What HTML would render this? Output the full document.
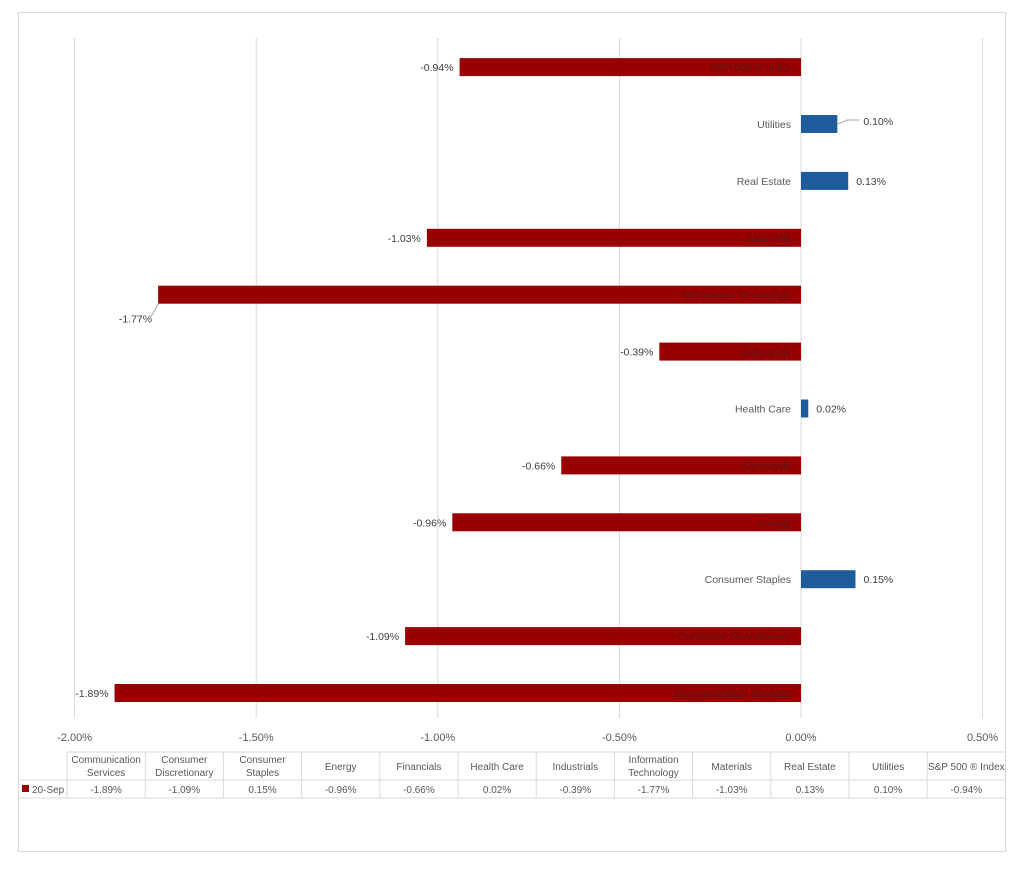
<!DOCTYPE html>
<html><head><meta charset="utf-8"><style>
body{margin:0;background:#fff;font-family:"Liberation Sans",sans-serif}
svg text{font-family:"Liberation Sans",sans-serif}
</style></head><body>
<svg id="c" width="1024" height="866" viewBox="0 0 1024 866">
<rect x="18.5" y="12.5" width="987" height="839" fill="#fff" stroke="#d9d9d9"/>
<g id="grid"></g><g id="bars"></g><g id="table"></g>
</svg>
<script>
const categories=["Communication Services","Consumer Discretionary","Consumer Staples","Energy","Financials","Health Care","Industrials","Information Technology","Materials","Real Estate","Utilities","S&P 500 ® Index"];
const headerLines=[["Communication","Services"],["Consumer","Discretionary"],["Consumer","Staples"],["Energy"],["Financials"],["Health Care"],["Industrials"],["Information","Technology"],["Materials"],["Real Estate"],["Utilities"],["S&P 500 ® Index"]];
const values=[-1.89,-1.09,0.15,-0.96,-0.66,0.02,-0.39,-1.77,-1.03,0.13,0.10,-0.94];
const ticks=[-2.0,-1.5,-1.0,-0.5,0,0.5];
const NS="http://www.w3.org/2000/svg";
function el(t,a,p,txt){const e=document.createElementNS(NS,t);for(const k in a)e.setAttribute(k,a[k]);if(txt!=null)e.textContent=txt;p.appendChild(e);return e;}
const x=v=>801+(v*363.2);
const y=i=>693-i*56.9;
const grid=document.getElementById('grid'),bars=document.getElementById('bars'),tbl=document.getElementById('table');
ticks.forEach(t=>{
 const g=el('line',{x1:x(t),x2:x(t),y1:38,y2:718,stroke:'#d9d9d9','stroke-width':1},grid);
 
 
 const l=el('text',{x:x(t),y:741,'font-size':11,fill:'#595959','text-anchor':'middle'},grid,t.toFixed(2)+'%');
 
 
});
values.forEach((v,i)=>{
 const cy=y(i),x0=x(0),x1=x(v);
 const r=el('rect',{x:Math.min(x0,x1),y:cy-9,width:Math.abs(x1-x0),height:18,fill:v<0?'#990000':'#1f5c9c'},bars);
 
 
 const c=el('text',{x:x0-10,y:cy+4,'font-size':10.5,fill:v<0?'#5c1a1a':'#595959','text-anchor':'end'},bars,categories[i]);
 
 
 let vl;
 if(v<0){
  const off=(categories[i]==="Information Technology")?24:0;
  vl=el('text',{x:x1-6,y:cy+4+off,'font-size':10.5,fill:'#404040','text-anchor':'end'},bars,v.toFixed(2)+'%');
  if(off){const ln=el('line',{x1:x1,y1:cy+9,x2:x1-8,y2:cy+24,stroke:'#a6a6a6'},bars);}
 }else{
  const off=(categories[i]==="Utilities")?18:0;
  vl=el('text',{x:x1+8+off,y:cy+4-(off?3:0),'font-size':10.5,fill:'#404040'},bars,v.toFixed(2)+'%');
  if(off){const ln=el('path',{d:`M${x1} ${cy} L${x1+10} ${cy-4} L${x1+22} ${cy-4}`,fill:'none',stroke:'#a6a6a6'},bars);}
 }
 
 
});
// table
const L=67,W=78.2,T=752,M=780,B=798;
el('line',{x1:L,x2:L+12*W,y1:T,y2:T,stroke:'#d9d9d9'},tbl);
el('line',{x1:18,x2:L+12*W,y1:M,y2:M,stroke:'#d9d9d9'},tbl);
el('line',{x1:18,x2:L+12*W,y1:B,y2:B,stroke:'#d9d9d9'},tbl);
for(let k=0;k<=12;k++)el('line',{x1:L+k*W,x2:L+k*W,y1:T,y2:B,stroke:'#d9d9d9'},tbl);
headerLines.forEach((h,i)=>{
 const cx=L+i*W+W/2;
 const t=el('text',{x:cx,'font-size':10,fill:'#595959','text-anchor':'middle'},tbl);
 
 
 h.forEach((s,j)=>{el('tspan',{x:cx,y:h.length===2?763+j*13:770},t,s);});
 const d=el('text',{x:cx,y:793,'font-size':10,fill:'#595959','text-anchor':'middle'},tbl,values[i].toFixed(2)+'%');
 
 
});
const lk=el('rect',{x:22,y:785,width:7,height:7,fill:'#990000'},tbl);


const lt=el('text',{x:32,y:793,'font-size':10,fill:'#595959'},tbl,'20-Sep');


</script>
</body></html>
